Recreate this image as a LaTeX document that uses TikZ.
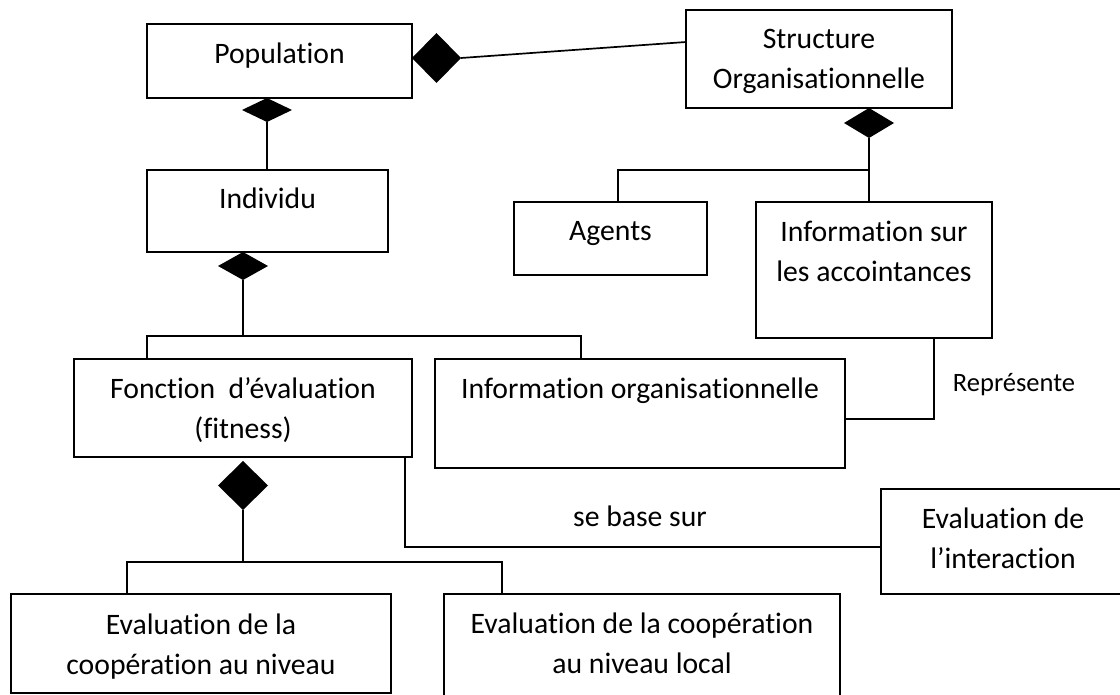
\documentclass[tikz,border=0pt]{standalone}
\usepackage{fontspec}
\setmainfont{Carlito}[Ligatures={NoCommon}]
\usetikzlibrary{shapes.geometric,calc}
\begin{document}
\begin{tikzpicture}[x=1pt,y=-1pt,line width=1.7pt,
  box/.style={draw, anchor=north west, inner sep=0pt, outer sep=0pt},
  diam/.style={diamond, fill=black, draw=none, inner sep=0pt, outer sep=0pt},
  lbl/.style={font=\fontsize{29.7}{40}\selectfont, align=flush center, anchor=base, inner sep=0pt, text width=400pt},
  small/.style={font=\fontsize{26.5}{30}\selectfont, anchor=base, inner sep=0pt}]
\useasboundingbox (0,0) rectangle (1120,695);
% boxes
\node[box, minimum width=265, minimum height=74]  (pop)  at (147,24)  {};
\node[box, minimum width=241, minimum height=82]  (ind)  at (147,170) {};
\node[box, minimum width=266, minimum height=98]  (str)  at (686,10)  {};
\node[box, minimum width=193, minimum height=73]  (agt)  at (514,202) {};
\node[box, minimum width=236, minimum height=136] (iacc) at (756,202) {};
\node[box, minimum width=338, minimum height=98]  (fon)  at (74,359)  {};
\node[box, minimum width=410, minimum height=109] (iorg) at (435,359) {};
\node[box, minimum width=244, minimum height=105] (eint) at (881,489) {};
\node[box, minimum width=380, minimum height=99]  (ecl)  at (11,594)  {};
\node[box, minimum width=396, minimum height=106] (ecr)  at (444,594) {};
% texts
\node[lbl] (tpop)  at ($(pop.north)+(0,40)$)  {Population};
\node[lbl] (tind)  at ($(ind.north)+(0,39)$)  {Individu};
\node[lbl] (tstr)  at ($(str.north)+(0,39)$)  {Structure\\Organisationnelle};
\node[lbl] (tagt)  at ($(agt.north)+(0,39)$)  {Agents};
\node[lbl] (tiacc) at ($(iacc.north)+(0,40)$) {Information sur\\les accointances};
\node[lbl] (tfon)  at ($(fon.north)+(0,39)$)  {Fonction\ \ d’évaluation\\(fitness)};
\node[lbl] (tiorg) at ($(iorg.north)+(0,39)$) {Information organisationnelle};
\node[lbl] (teint) at ($(eint.north)+(0,39)$) {Evaluation de\\l’interaction};
\node[lbl] (tecl)  at ($(ecl.north)+(0,40)$)  {Evaluation de la\\coopération au niveau};
\node[lbl] (tecr)  at ($(ecr.north)+(0,39)$)  {Evaluation de la coopération\\au niveau local};
\node[small] (trep) at (1014,391) {Représente};
\node[lbl]   (tsbs) at (640,526)  {se base sur};
% diamonds
\node[diam, minimum width=50, minimum height=24] (dpop)  at (267,110)   {};
\node[diam, minimum width=49, minimum height=50] (dside) at (436.5,58)  {};
\node[diam, minimum width=50, minimum height=28] (dind)  at (243,266)   {};
\node[diam, minimum width=50, minimum height=30] (dstr)  at (869,123)   {};
\node[diam, minimum width=50, minimum height=49] (dfon)  at (243,485.5) {};
% junction coordinates
\coordinate (b1) at (243,336);
\coordinate (b2) at (869,170);
\coordinate (b3) at (243,562);
% connectors
\draw (dside.east) -- ($(str.north west)+(0,32)$);
\draw (dpop.south) -- (dpop.south |- ind.north);
\draw (dind.south) -- (b1);
\draw ($(fon.north west)+(73,0)$) |- ($(iorg.north west)+(146,-23)$) -- ($(iorg.north west)+(146,0)$);
\draw (dstr.south) -- (dstr.south |- iacc.north);
\draw ($(agt.north west)+(104,0)$) |- (b2);
\draw ($(iacc.south west)+(178,0)$) |- ($(iorg.north east)+(0,60)$);
\draw ($(fon.south west)+(331,0)$) |- ($(eint.north west)+(0,58)$);
\draw (dfon.south) -- (b3);
\draw ($(ecl.north west)+(116,0)$) |- ($(ecr.north west)+(58,-32)$) -- ($(ecr.north west)+(58,0)$);
\end{tikzpicture}
\end{document}
